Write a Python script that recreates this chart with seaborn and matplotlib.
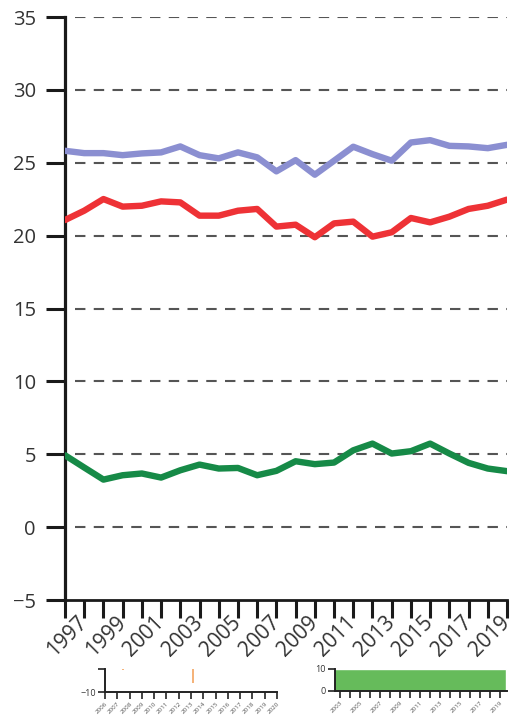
import numpy as np
import pandas as pd
import matplotlib
matplotlib.use("Agg")
import matplotlib.pyplot as plt
import seaborn as sns

# ---------------- data ----------------
years = list(range(1996, 2020))
series_blue = [25.82, 25.66, 25.66, 25.52, 25.64, 25.71, 26.12, 25.52, 25.30, 25.71,
               25.37, 24.41, 25.18, 24.18, 25.14, 26.10, 25.59, 25.14, 26.39, 26.55,
               26.16, 26.12, 26.00, 26.23]
series_red = [21.07, 21.71, 22.51, 21.99, 22.05, 22.35, 22.28, 21.37, 21.37, 21.71,
              21.83, 20.62, 20.75, 19.89, 20.84, 20.96, 19.93, 20.23, 21.21, 20.91,
              21.30, 21.83, 22.05, 22.47]
series_green = [4.93, 4.09, 3.26, 3.56, 3.68, 3.40, 3.90, 4.29, 4.02, 4.06,
                3.56, 3.86, 4.52, 4.32, 4.43, 5.27, 5.73, 5.05, 5.21, 5.73,
                5.05, 4.41, 4.02, 3.84]
series_names = ["blue", "red", "green"]
colors = {"blue": "#8b8fd1", "red": "#ee3236", "green": "#168a47"}
label_years = list(range(1997, 2020, 2))
y_ticks = list(range(-5, 36, 5))

# small inset fragments at the bottom
inset1_years = list(range(2006, 2021))
inset1_orange_x = [1.5, 7.2]
inset1_orange_y0 = [-8.1, -9.2]
inset2_years = list(range(2003, 2020))
inset2_label_years = list(range(2003, 2020, 2))
inset2_value = 10

df = pd.DataFrame({
    "year": years * 3,
    "value": series_blue + series_red + series_green,
    "series": sum([[n] * len(years) for n in series_names], []),
})

sns.set_style("white")
plt.rcParams["font.family"] = ["Open Sans", "DejaVu Sans"]

W, H = 518, 718
fig = plt.figure(figsize=(W / 100, H / 100), dpi=100)

def px_axes(x0, y0, x1, y1):
    return fig.add_axes([x0 / W, 1 - y1 / H, (x1 - x0) / W, (y1 - y0) / H])

ax = px_axes(65, 17, 507, 600)
ax.set_zorder(3)
ax.patch.set_alpha(0)

for y in y_ticks[1:]:
    ax.axhline(y, xmin=0.022, color="#555555", lw=1.5, ls=(0, (5, 4)), zorder=1)

sns.lineplot(data=df, x="year", y="value", hue="series", palette=colors,
             lw=4.6, legend=False, ax=ax, zorder=3)
ax.set_xlim(1996, 2019)
ax.set_ylim(-5, 35)
ax.set_yticks(y_ticks)
ax.set_xticks(years)
ax.set_xticklabels([str(y) if y in label_years else "" for y in years])
for s in ["top", "right"]:
    ax.spines[s].set_visible(False)
ax.spines["left"].set_linewidth(2.3)
ax.spines["bottom"].set_linewidth(2.0)
ax.spines["left"].set_color("#1a1a1a")
ax.spines["bottom"].set_color("#1a1a1a")
ax.tick_params(axis="y", length=14, width=2.2, color="#1a1a1a", pad=7,
               labelsize=14.5, labelcolor="#333333", direction="out", left=True)
ax.tick_params(axis="x", length=13, width=2.2, color="#1a1a1a", pad=1,
               labelsize=15, labelcolor="#333333", direction="out", bottom=True)
for lab in ax.get_xticklabels():
    lab.set_rotation(45)
    lab.set_ha("right")
    lab.set_va("center")
    lab.set_rotation_mode("anchor")
ax.set_xlabel("")
ax.set_ylabel("")

# ---- inset 1 (left) ----
a1 = px_axes(105, 669, 277, 692)
a1.set_zorder(1)
a1.set_xlim(0, 14)
a1.set_ylim(-10, -8)
a1.vlines(inset1_orange_x, inset1_orange_y0, -8, color="#f4a460", lw=1.2)
a1.set_xticks(range(len(inset1_years)))
a1.set_xticklabels([str(y) for y in inset1_years], rotation=45, ha="right",
                   rotation_mode="anchor", fontsize=4.5, color="#555555")
a1.set_yticks([-10, -8])
a1.set_yticklabels(["\u221210", ""], fontsize=6.5, color="#333333")
for s in ["top", "right"]:
    a1.spines[s].set_visible(False)
for s in ["left", "bottom"]:
    a1.spines[s].set_linewidth(1.4)
    a1.spines[s].set_color("#222222")
a1.tick_params(length=5, width=1.2, pad=1.5, color="#222222", bottom=True, left=True)
a1.patch.set_alpha(0)

# ---- inset 2 (right) ----
a2 = px_axes(335, 669, 507, 691)
a2.set_zorder(1)
a2.bar([2011], [inset2_value], width=17.2, color="#66bb5b", align="center")
a2.set_xlim(2002.5, 2019.7)
a2.set_ylim(0, 10)
a2.set_xticks(inset2_years)
a2.set_xticklabels([str(y) if y in inset2_label_years else "" for y in inset2_years],
                   rotation=45, ha="right", rotation_mode="anchor",
                   fontsize=4.5, color="#555555")
a2.set_yticks([0, 10])
a2.set_yticklabels(["0", "10"], fontsize=6.5, color="#333333")
for s in ["top", "right"]:
    a2.spines[s].set_visible(False)
for s in ["left", "bottom"]:
    a2.spines[s].set_linewidth(1.4)
    a2.spines[s].set_color("#222222")
a2.tick_params(length=5, width=1.2, pad=1.5, color="#222222", bottom=True, left=True)
a2.patch.set_alpha(0)

fig.savefig("out.png", dpi=100)
